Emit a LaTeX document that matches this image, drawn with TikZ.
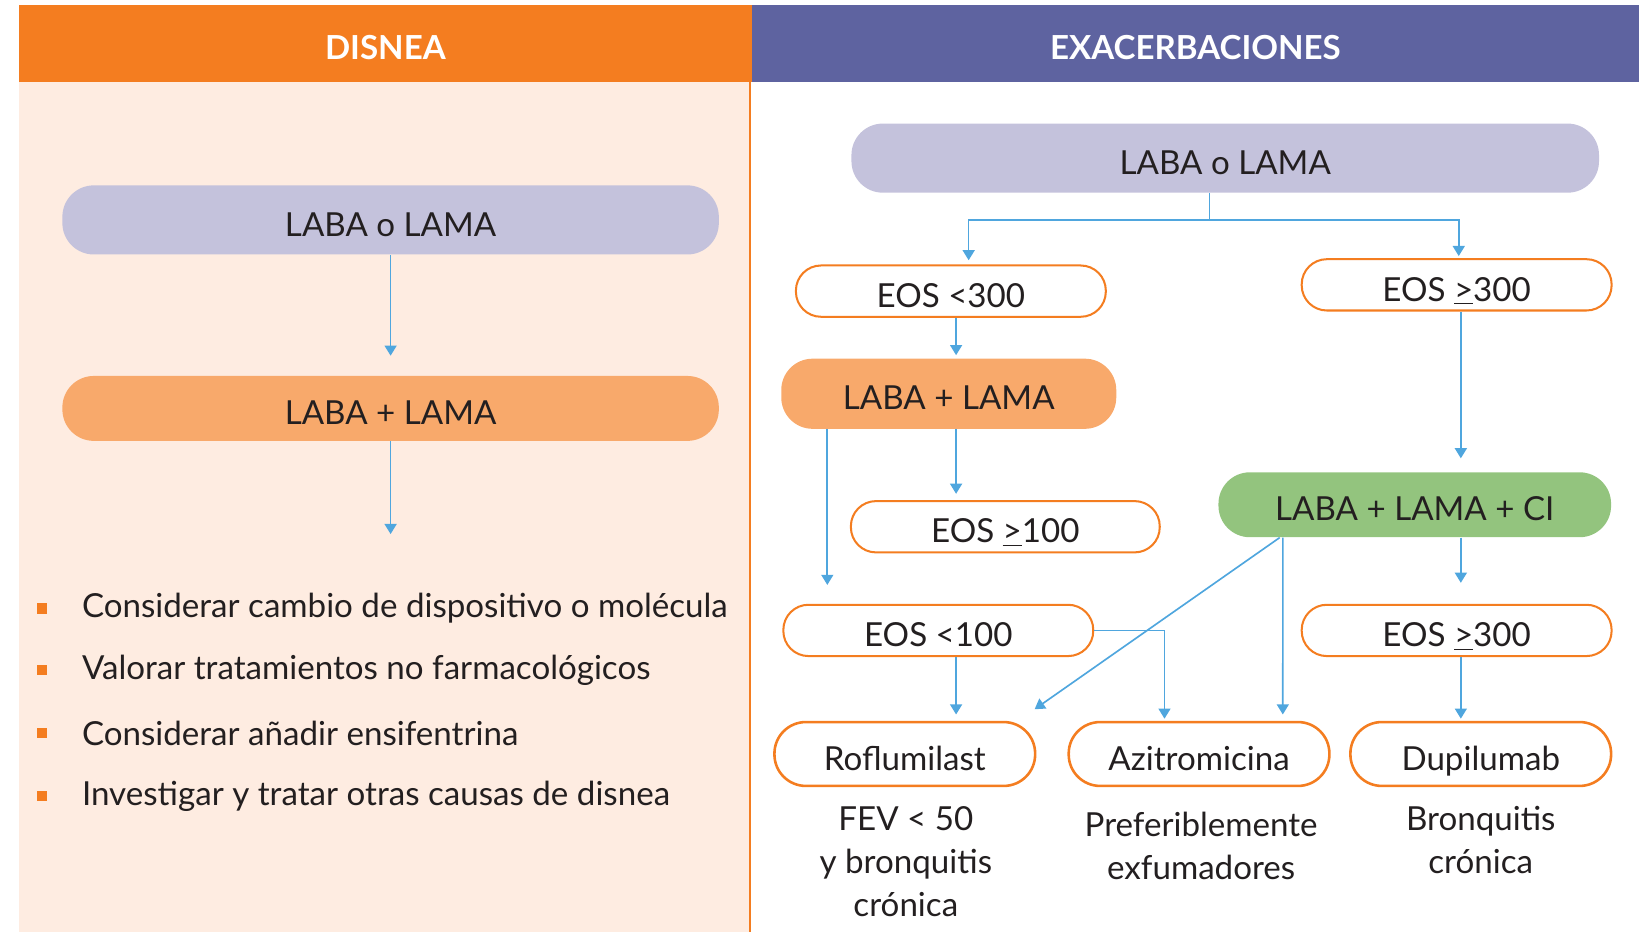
\documentclass[tikz,border=0pt]{standalone}
\usepackage{fontspec}
\setmainfont{Lato}
\usepackage{tikz}
\usetikzlibrary{arrows.meta}

\definecolor{disorange}{HTML}{F47D20}
\definecolor{exapurple}{HTML}{5E63A0}
\definecolor{peach}{HTML}{FEECE1}
\definecolor{lavender}{HTML}{C4C2DC}
\definecolor{softorange}{HTML}{F8A96B}
\definecolor{cigreen}{HTML}{93C47E}
\definecolor{arrblue}{HTML}{4FA6DE}
\definecolor{txt}{HTML}{231F20}

\tikzset{
  head/.style={text=white, font=\fontsize{18}{21}\bfseries\selectfont, inner sep=0pt,
    text height=0.62cm, text depth=0pt},
  pill/.style={rounded corners=0.6cm, text=txt, font=\fontsize{18}{21}\selectfont, inner sep=0pt,
    text height=0.62cm, text depth=0pt},
  eos/.style={pill, draw=disorange, line width=1.1pt, fill=white, rounded corners=0.48cm,
    minimum width=5.92cm, minimum height=0.98cm},
  drug/.style={eos, line width=1.4pt, rounded corners=0.6cm, minimum width=4.98cm, minimum height=1.22cm},
  note/.style={align=center, text=txt, font=\fontsize{18}{23.3}\selectfont},
  item/.style={anchor=west, text=txt, font=\fontsize{18}{21}\selectfont, inner sep=0pt},
  line/.style={draw=arrblue, line width=0.9pt},
  arr/.style={line, -{Triangle[width=6.5pt,length=5.5pt]}}
}

\begin{document}
\begin{tikzpicture}[x=0.02cm,y=-0.02cm]
  \useasboundingbox (0,0) rectangle (1568,890);
  % panels
  \fill[peach] (18,78) rectangle (716,890);
  \draw[disorange, line width=1pt] (716,78) -- (716,890);
  \node[name=hd, head, fill=disorange, minimum width=14cm, minimum height=1.46cm] at (368,41.5){DISNEA};
  \node[name=hx, head, fill=exapurple, minimum width=16.94cm, minimum height=1.46cm] at (1141.5,41.5){EXACERBACIONES};

  % disnea
  \node[name=L1, pill, fill=lavender, minimum width=12.54cm, minimum height=1.32cm] at (373,210){LABA o LAMA};
  \node[name=L2, pill, fill=softorange, minimum width=12.54cm, minimum height=1.24cm] at (373,390){LABA + LAMA};
  \coordinate (lend) at (373,510);
  \draw[arr, shorten >=0.38cm] (L1) -- (L2);
  \draw[arr] (L2) -- (lend);
  \foreach \y/\t in {581/Considerar cambio de dispositivo o molécula,
                     640/Valorar tratamientos no farmacológicos,
                     700/Considerar añadir ensifentrina,
                     760/Investigar y tratar otras causas de disnea}{
    \fill[disorange] (35,\y-5) rectangle (45,\y+5);
    \node[name=b\y, item] at (78,\y){\t};
  }

  % exacerbaciones
  \node[name=R1, pill, fill=lavender, minimum width=14.28cm, minimum height=1.32cm] at (1170,151){LABA o LAMA};
  \node[name=E1, eos] at (908,278){EOS <300};
  \node[name=E2, eos] at (1391,272){EOS \underline{>}300};
  \node[name=LL, pill, fill=softorange, minimum width=6.4cm, minimum height=1.34cm] at (906,376){LABA + LAMA};
  \node[name=E3, eos, minimum width=5.9cm] at (960,503){EOS \underline{>}100};
  \node[name=G, pill, fill=cigreen, minimum width=7.5cm, minimum height=1.24cm] at (1351,482){LABA + LAMA + CI};
  \node[name=E4, eos] at (896,602){EOS <100};
  \node[name=E5, eos] at (1391,602){EOS \underline{>}300};
  \node[name=Rof, drug] at (864,720){Roflumilast};
  \node[name=Azi, drug] at (1145,720){Azitromicina};
  \node[name=Dup, drug] at (1414,720){Dupilumab};
  \node[name=n1, note] at (865,823){FEV < 50\\y bronquitis\\crónica};
  \node[name=n2, note] at (1147,807.5){Preferiblemente\\exfumadores};
  \node[name=n3, note] at (1414,802.5){Bronquitis\\crónica};

  \coordinate (split) at (1155,210);
  \draw[line] (R1.south -| split) -- (split);
  \draw[arr, shorten >=0.08cm] (split) -| ([xshift=0.34cm]E1.north);
  \draw[arr, shorten >=0.04cm] (split) -| ([xshift=0.04cm]E2.north);
  \draw[arr, shorten >=0.06cm] ([xshift=0.1cm]E1.south) -- ([xshift=0.1cm]E1.south |- LL.north);
  \draw[arr, shorten >=0.12cm] ([xshift=0.14cm]LL.south) -- ([xshift=0.14cm]LL.south |- E3.north);
  \draw[arr, shorten >=0.36cm] ([xshift=-2.32cm]LL.south) -- ([xshift=-2.32cm]LL.south |- E4.north);
  \draw[arr, shorten >=0.26cm] ([xshift=0.08cm]E2.south) -- ([xshift=0.08cm]E2.south |- G.north);
  \draw[arr, shorten >=0.4cm] ([xshift=0.88cm]G.south) -- ([xshift=0.88cm]G.south |- E5.north);
  \draw[arr, shorten >=0.04cm] ([xshift=0.08cm]E5.south) -- ([xshift=0.08cm]E5.south |- Dup.north);
  \draw[arr, shorten >=0.12cm] ([xshift=0.34cm]E4.south) -- ([xshift=0.34cm]E4.south |- Rof.north);
  \draw[arr, shorten >=0.04cm] (E4.east) -| ([xshift=-0.66cm]Azi.north);
  \draw[arr, shorten >=0.12cm] ([xshift=-2.52cm]G.south) -- ([xshift=1.6cm]Azi.north);
  \draw[arr] ([xshift=-2.58cm]G.south) -- ([xshift=2.48cm,yshift=0.22cm]Rof.north);
\end{tikzpicture}
\end{document}
